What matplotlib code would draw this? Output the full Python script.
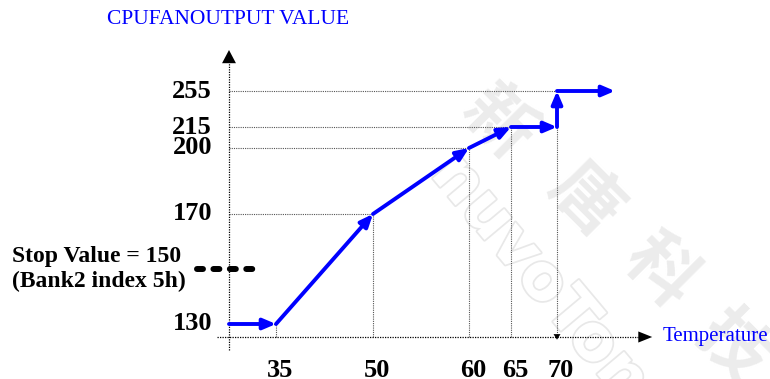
import numpy as np
import matplotlib
matplotlib.use("Agg")
import matplotlib.pyplot as plt
import matplotlib.patheffects as pe
from matplotlib.patches import FancyArrowPatch

# fan output vs temperature break points
temp_points = [35, 50, 60, 65, 70]
output_points = [130, 170, 200, 215, 255]
temp_labels = ["35", "50", "60", "65", "70"]
output_labels = ["130", "170", "200", "215", "255"]
stop_value = 150

# the curve: flat at 130 until 35C, ramps, holds 215, jumps to 255 at 70C
curve_temp = [25, 35, 50, 60, 65, 70, 70, 75]
curve_output = [130, 130, 170, 200, 215, 215, 255, 255]

# the sketch is not to scale, so each axis gets a piecewise spacing
x_knots_val = [0, 25, 35, 50, 60, 65, 70, 75, 100]
x_knots_pos = [0, 229, 276, 373, 469, 511, 557, 615, 770]
y_knots_val = [100, 125, 130, 170, 200, 215, 255, 290, 400]
y_knots_pos = [0, 42, 55, 165, 231, 252, 288, 329, 379]

origin_temp = 25
base_output = 125

BLUE = "#0000ff"
DOT = (0, (1, 1))


def piecewise(src, dst):
    return lambda v: np.interp(v, src, dst)


fig = plt.figure(figsize=(7.7, 3.79), dpi=100)
ax = fig.add_axes([0, 0, 1, 1])
ax.set_xscale("function", functions=(piecewise(x_knots_val, x_knots_pos),
                                     piecewise(x_knots_pos, x_knots_val)))
ax.set_yscale("function", functions=(piecewise(y_knots_val, y_knots_pos),
                                     piecewise(y_knots_pos, y_knots_val)))
ax.set_xlim(0, 100)
ax.set_ylim(100, 400)
ax.axis("off")

# faint company watermark
for ch, (px, py) in zip("新唐科技", [(497, 123), (585, 200), (660, 272), (732, 348)]):
    ax.text(px, 379 - py, ch, transform=None, fontsize=50, rotation=-45,
            color="#ececec", ha="center", va="center", fontweight="bold",
            family=["Noto Sans CJK TC", "DejaVu Sans"], zorder=0)
ax.text(540, 379 - 278, "nuvoTon", transform=None, fontsize=46, rotation=-50,
        color="white", ha="center", va="center", family="DejaVu Sans",
        fontweight="bold", zorder=0,
        path_effects=[pe.withStroke(linewidth=2.5, foreground="#e8e8e8")])

# axes: dotted lines with solid arrow heads
ax.plot([origin_temp, origin_temp], [117, 279], color="black", lw=0.9, ls=DOT)
ax.add_patch(FancyArrowPatch((origin_temp, 279), (origin_temp, 290),
                             arrowstyle="-|>,head_length=9.5,head_width=5",
                             mutation_scale=1, lw=0, color="black",
                             shrinkA=0, shrinkB=0))
ax.plot([23.7, 78.7], [base_output, base_output], color="black", lw=0.9, ls=DOT)
ax.add_patch(FancyArrowPatch((78.7, base_output), (81.0, base_output),
                             arrowstyle="-|>,head_length=10,head_width=4",
                             mutation_scale=1, lw=0, color="black",
                             shrinkA=0, shrinkB=0))

# guide lines from each break point to the axes
for t, v in zip(temp_points, output_points):
    ax.plot([origin_temp, t], [v, v], color="#555555", lw=0.8, ls=DOT, zorder=1)
    ax.plot([t, t], [base_output, min(v, 215)], color="#555555", lw=0.8,
            ls=DOT, zorder=1)
ax.add_patch(FancyArrowPatch((70, 127), (70, base_output - 1.6),
                             arrowstyle="-|>,head_length=4,head_width=2.5",
                             mutation_scale=1, lw=0, color="black",
                             shrinkA=0, shrinkB=0))

# fan output curve, one arrow per segment
for i in range(len(curve_temp) - 1):
    ax.add_patch(FancyArrowPatch((curve_temp[i], curve_output[i]),
                                 (curve_temp[i + 1], curve_output[i + 1]),
                                 arrowstyle="-|>,head_length=7.5,head_width=3.2",
                                 mutation_scale=1, lw=2.8, color=BLUE,
                                 shrinkA=0, shrinkB=0, zorder=3))

# value labels
num_font = dict(family="Liberation Serif", fontweight="bold", fontsize=19)
for v, lab in zip(output_points, output_labels):
    ax.annotate(lab, (origin_temp, v), xytext=(-17, 0), textcoords="offset pixels",
                ha="right", va="center", **num_font)
for t, lab in zip(temp_points, temp_labels):
    ax.annotate(lab, (t, base_output), xytext=(4, -40), textcoords="offset pixels",
                ha="center", va="baseline", **num_font)

# stop value marker
ax.plot([21.5, 31.9], [stop_value, stop_value], color="black", lw=4.3,
        ls=(0, (1.0, 1.75)), dash_capstyle="round")
ax.annotate("Stop Value = 150\n(Bank2 index 5h)", (12, stop_value),
            xycoords=("figure pixels", "data"), ha="left", va="center",
            linespacing=1.25, family="Liberation Serif", fontweight="bold",
            fontsize=17)

fig.text(107, 379 - 20, "CPUFANOUTPUT VALUE", transform=None, color=BLUE,
         family="Liberation Serif", fontsize=15.5, ha="left", va="center")
fig.text(663, 379 - 337, "Temperature", transform=None, color=BLUE,
         family="Liberation Serif", fontsize=15, ha="left", va="center")

fig.savefig("out.png", dpi=100)
